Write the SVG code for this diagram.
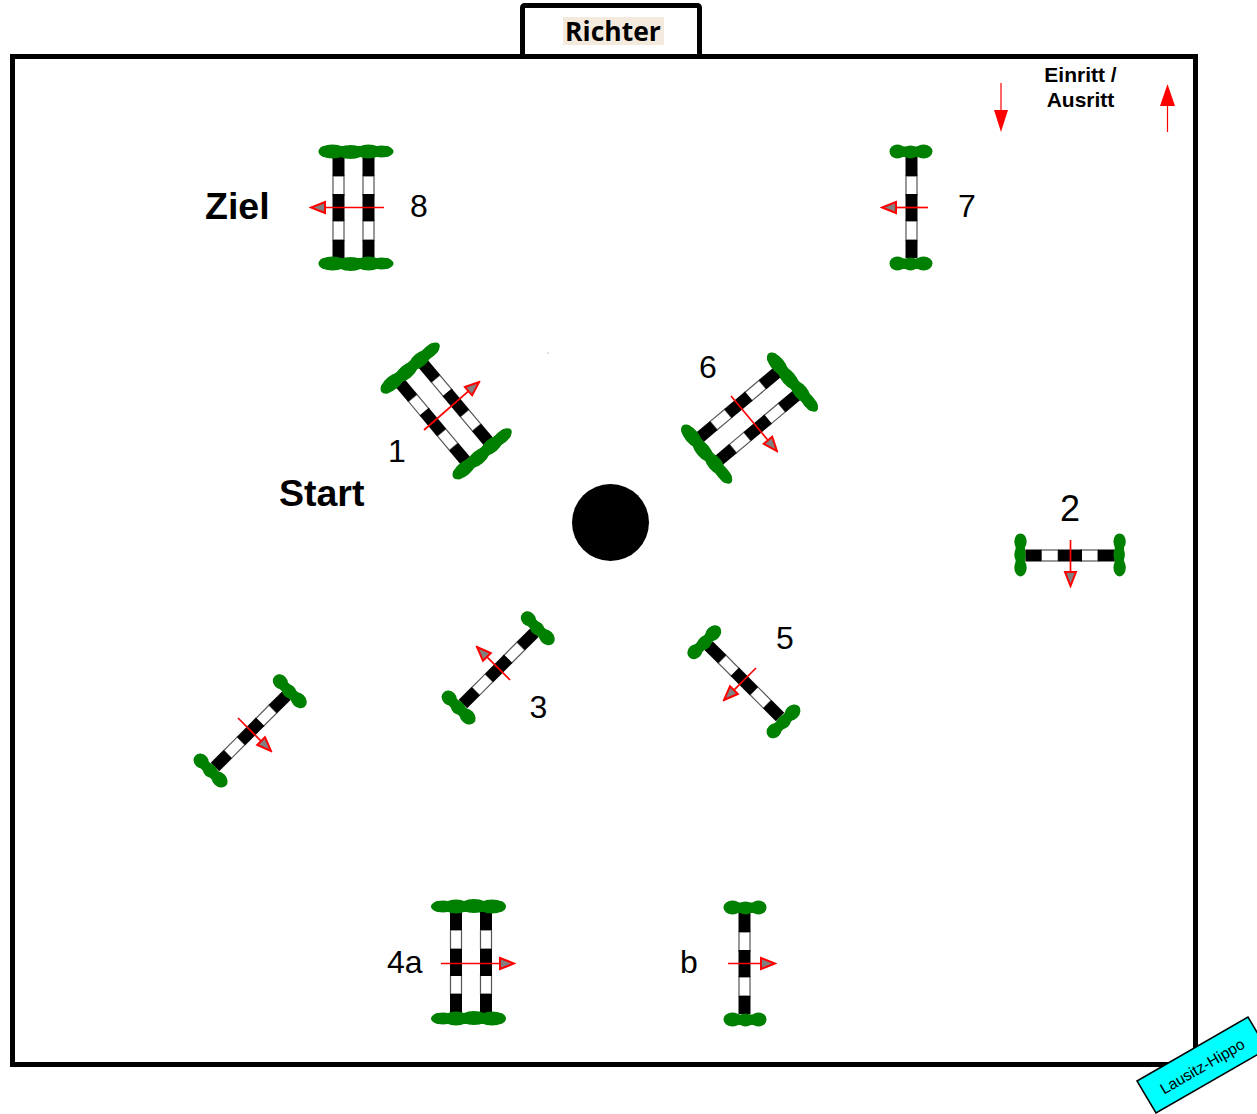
<svg xmlns="http://www.w3.org/2000/svg" xmlns:xlink="http://www.w3.org/1999/xlink" width="1257" height="1114" viewBox="0 0 1257 1114">
<style>
.lbl{font-family:"Liberation Sans",Arial,sans-serif;fill:#000}
.num{font-size:32px}
.big{font-size:37.500px;font-weight:bold}
.small{font-size:21px;font-weight:bold;text-anchor:middle}
.g{fill:#008000}
.k{fill:#000}
.w{fill:#fff;stroke:#555;stroke-width:1.200}
.arr{stroke:#f00;stroke-width:1.700;fill:none;marker-end:url(#head)}
</style>
<defs>
<marker id="head" markerUnits="userSpaceOnUse" markerWidth="18" markerHeight="16" viewBox="0 0 18 16" refX="2" refY="8" orient="auto">
<path d="M2,2.500 L16,8 L2,13.500 Z" fill="#808080" stroke="#f00" stroke-width="2"/>
</marker>
<g id="pole">
<rect class="w" x="-5.500" y="-31" width="11" height="19"/>
<rect class="w" x="-5.500" y="14" width="11" height="19"/>
<rect class="k" x="-6" y="-50" width="12" height="19"/>
<rect class="k" x="-6" y="-13" width="12" height="27"/>
<rect class="k" x="-6" y="33" width="12" height="18"/>
</g>
<g id="shrubS" class="g">
<rect x="-21" y="-5" width="40" height="10.500" rx="4"/>
<ellipse cx="-14" cy="0" rx="8" ry="7"/>
<ellipse cx="-1" cy="0.500" rx="8" ry="6.500"/>
<ellipse cx="12" cy="0" rx="9" ry="7"/>
</g>
<g id="shrubD" class="g">
<rect x="-34" y="-5.500" width="72" height="11" rx="5"/>
<ellipse cx="-21" cy="0" rx="14" ry="7"/>
<ellipse cx="-3" cy="0.500" rx="14" ry="7"/>
<ellipse cx="15" cy="0" rx="13" ry="7"/>
<ellipse cx="28" cy="0" rx="12" ry="6"/>
</g>
<g id="single">
<use xlink:href="#pole" href="#pole"/>
<use xlink:href="#shrubS" href="#shrubS" y="-55.500"/>
<use xlink:href="#shrubS" href="#shrubS" y="56.500"/>
</g>
<g id="double">
<use xlink:href="#pole" href="#pole" x="-15"/>
<use xlink:href="#pole" href="#pole" x="15"/>
<use xlink:href="#shrubD" href="#shrubD" x="0" y="-55.500"/>
<use xlink:href="#shrubD" href="#shrubD" x="0" y="56.500"/>
</g>
</defs>
<rect width="1257" height="1114" fill="#fff"/>
<g id="arena">
<rect x="12.500" y="56.500" width="1183" height="1008" fill="none" stroke="#000" stroke-width="5"/>
<circle cx="548" cy="353" r="0.500" fill="#666"/>
</g>
<g id="richter">
<rect x="522.500" y="5.500" width="177" height="51" rx="2" fill="#fff" stroke="#000" stroke-width="5"/>
<rect x="563" y="17" width="101" height="28" fill="#f3e9dd"/>
<text x="613" y="41" text-anchor="middle" style="font-family:'Open Sans','Noto Sans',sans-serif;font-size:26.500px;font-weight:bold" fill="#000">Richter</text>
</g>
<g id="center-post"><circle cx="610.500" cy="522.500" r="38.500" fill="#000"/></g>
<g id="jump-8"><use xlink:href="#double" href="#double" transform="translate(353.500 207)"/><text class="lbl num" x="410" y="217">8</text></g>
<g id="jump-7"><use xlink:href="#single" href="#single" transform="translate(911.500 207)"/><text class="lbl num" x="958" y="217">7</text></g>
<g id="jump-1"><use xlink:href="#double" href="#double" transform="translate(444 412) rotate(-40)"/><text class="lbl num" x="388" y="462">1</text></g>
<g id="jump-6"><use xlink:href="#double" href="#double" transform="translate(748.500 416) rotate(50)"/><text class="lbl num" x="699" y="378">6</text></g>
<g id="jump-2"><use xlink:href="#single" href="#single" transform="translate(1070.500 555.500) rotate(90) scale(1 0.885)"/><text class="lbl" style="font-size:36px" x="1060" y="521">2</text></g>
<g id="jump-3"><use xlink:href="#single" href="#single" transform="translate(499 668) rotate(45)"/><text class="lbl num" x="529.500" y="718">3</text></g>
<g id="jump-5"><use xlink:href="#single" href="#single" transform="translate(744 681) rotate(-45)"/><text class="lbl num" x="776" y="649">5</text></g>
<g id="jump-left"><use xlink:href="#single" href="#single" transform="translate(251 731) rotate(45)"/></g>
<g id="jump-4a"><use xlink:href="#double" href="#double" transform="translate(471 963) rotate(180)"/><text class="lbl num" x="387" y="973">4a</text></g>
<g id="jump-b"><use xlink:href="#single" href="#single" transform="translate(744.500 963) scale(-1 1)"/><text class="lbl num" x="680" y="973">b</text></g>
<g id="titles">
<text class="lbl big" x="205" y="219">Ziel</text>
<text class="lbl big" x="279" y="506">Start</text>
</g>
<g id="entry">
<text class="lbl small" x="1080.500" y="82">Einritt /</text>
<text class="lbl small" x="1080.500" y="107">Ausritt</text>
<line x1="1001" y1="83" x2="1001" y2="110" stroke="#f00" stroke-width="1.200"/>
<polygon points="994,110 1008,110 1001,132" fill="#f00"/>
<line x1="1167.500" y1="132" x2="1167.500" y2="105" stroke="#f00" stroke-width="1.200"/>
<polygon points="1160,106 1175,106 1167.500,84" fill="#f00"/>
</g>
<g id="connectors">
<line class="arr" x1="384" y1="207.500" x2="325" y2="207.500"/>
<line class="arr" x1="928" y1="207.500" x2="896" y2="207.500"/>
<line class="arr" x1="441" y1="963.500" x2="500" y2="963.500"/>
<line class="arr" x1="728" y1="963.500" x2="761" y2="963.500"/>
<line class="arr" x1="424" y1="430" x2="468.500" y2="391.200"/>
<line class="arr" x1="731" y1="396" x2="768" y2="440.300"/>
<line class="arr" x1="1070.500" y1="540" x2="1070.500" y2="572"/>
<line class="arr" x1="510" y1="680" x2="486.900" y2="656.900"/>
<line class="arr" x1="756" y1="668" x2="733.900" y2="690.100"/>
<line class="arr" x1="238" y1="718" x2="261.100" y2="741.100"/>
</g>
<g id="badge">
<polygon points="1137,1081 1248,1017 1267,1049 1156,1113" fill="#0ff" stroke="#000" stroke-width="1.500"/>
<text class="lbl" transform="translate(1205 1071) rotate(-30)" text-anchor="middle" style="font-size:15.500px">Lausitz-Hippo</text>
</g>
</svg>
